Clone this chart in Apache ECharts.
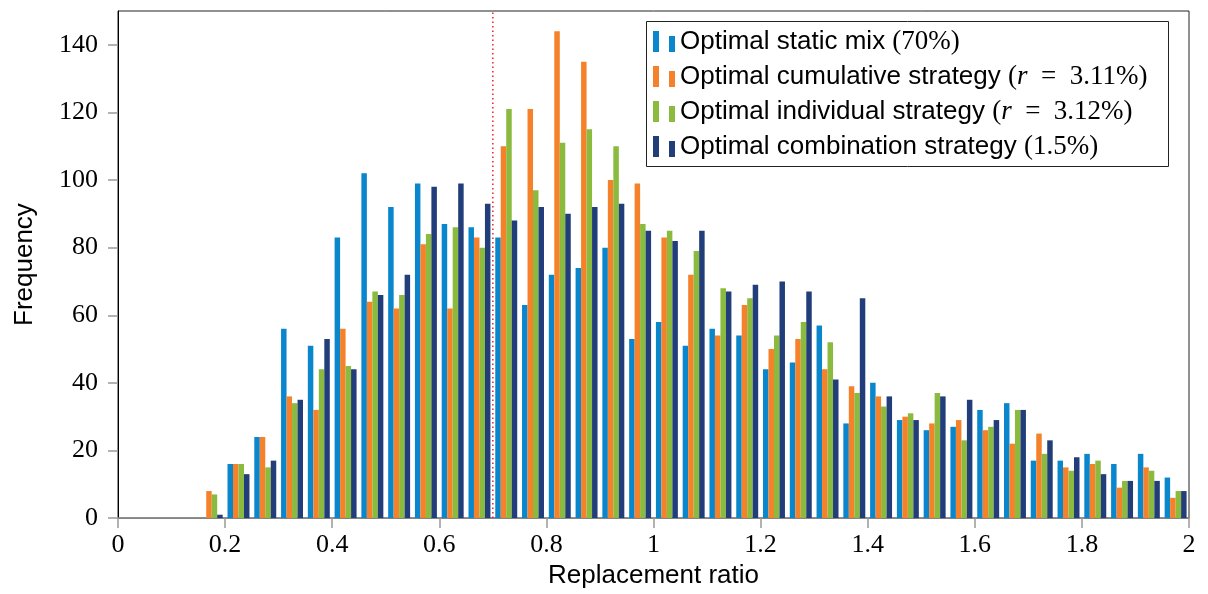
<!DOCTYPE html>
<html>
<head>
<meta charset="utf-8">
<script src="https://cdn.jsdelivr.net/npm/echarts@6/dist/echarts.min.js"></script>
<style>
  html, body { margin: 0; padding: 0; background: #fff; }
  #chart { width: 1208px; height: 594px; }
</style>
</head>
<body>
<div id="chart"></div>
<script>
// histogram bins, width 0.05, starting at these values
var bins = ['0', '0.05', '0.1', '0.15', '0.2', '0.25', '0.3', '0.35', '0.4', '0.45',
    '0.5', '0.55', '0.6', '0.65', '0.7', '0.75', '0.8', '0.85', '0.9', '0.95',
    '1', '1.05', '1.1', '1.15', '1.2', '1.25', '1.3', '1.35', '1.4', '1.45',
    '1.5', '1.55', '1.6', '1.65', '1.7', '1.75', '1.8', '1.85', '1.9', '1.95'];

var staticMix = [0, 0, 0, 0, 16, 24, 56, 51, 83, 102, 92, 99, 87, 86, 83, 63, 72, 74, 80, 53,
    58, 51, 56, 54, 44, 46, 57, 28, 40, 29, 26, 27, 32, 34, 17, 17, 19, 16, 19, 12];
var cumulative = [0, 0, 0, 8, 16, 24, 36, 32, 56, 64, 62, 81, 62, 83, 110, 121, 144, 135, 100, 99,
    83, 72, 54, 63, 50, 53, 44, 39, 36, 30, 28, 29, 26, 22, 25, 15, 16, 9, 15, 6];
var individual = [0, 0, 0, 7, 16, 15, 34, 44, 45, 67, 66, 84, 86, 80, 121, 97, 111, 115, 110, 87,
    85, 79, 68, 65, 54, 58, 52, 37, 33, 31, 37, 23, 27, 32, 19, 14, 17, 11, 14, 8];
var combination = [0, 0, 0, 1, 13, 17, 35, 53, 44, 66, 72, 98, 99, 93, 88, 92, 90, 92, 93, 85,
    82, 85, 67, 69, 70, 67, 41, 65, 36, 29, 36, 35, 29, 32, 23, 18, 13, 11, 11, 8];

var yTicks = [0, 20, 40, 60, 80, 100, 120, 140];
var threshold = 0.7;

var names = ['Optimal static mix (70%)', 'Optimal cumulative strategy (r = 3.11%)',
    'Optimal individual strategy (r = 3.12%)', 'Optimal combination strategy (1.5%)'];

var sans = 'Liberation Sans, Arial, sans-serif';
var serif = 'Liberation Serif, Times New Roman, serif';

var myChart = echarts.init(document.getElementById('chart'));

function barSeries(name, data, color) {
    return {
        name: name,
        type: 'bar',
        xAxisIndex: 0,
        data: data,
        itemStyle: { color: color },
        barGap: '0%',
        barCategoryGap: '18%'
    };
}

var legendText = {};
legendText[names[0]] = '{s|Optimal static mix }{m|(70%)}';
legendText[names[1]] = '{s|Optimal cumulative strategy }{m|(}{i|r}{m|  =  3.11%)}';
legendText[names[2]] = '{s|Optimal individual strategy }{m|(}{i|r}{m|  =  3.12%)}';
legendText[names[3]] = '{s|Optimal combination strategy }{m|(1.5%)}';

var option = {
    animation: false,
    grid: {
        left: 118, right: 19, top: 11, bottom: 74,
        show: true, borderColor: '#222', borderWidth: 1
    },
    // legend box drawn separately so its size is fixed
    graphic: [{
        type: 'rect',
        shape: { x: 646.5, y: 21.5, width: 522, height: 145 },
        style: { fill: '#fff', stroke: '#222', lineWidth: 1 },
        z: 5
    }],
    legend: {
        data: names,
        orient: 'vertical',
        left: 653,
        top: 28,
        padding: 0,
        itemGap: 8,
        itemWidth: 22,
        itemHeight: 21,
        icon: 'path://M0,0H6V21H0Z M16,5H22V21H16Z',
        z: 10,
        formatter: function (name) { return legendText[name]; },
        textStyle: {
            rich: {
                s: { fontFamily: sans, fontSize: 26, color: '#000' },
                m: { fontFamily: serif, fontSize: 27, color: '#000' },
                i: { fontFamily: serif, fontSize: 27, fontStyle: 'italic', color: '#000' }
            }
        }
    },
    xAxis: [{
        type: 'category',
        data: bins,
        show: false
    }, {
        type: 'value',
        min: 0,
        max: 2,
        interval: 0.2,
        position: 'bottom',
        name: 'Replacement ratio',
        nameLocation: 'middle',
        nameGap: 44,
        nameTextStyle: { fontFamily: sans, fontSize: 26, color: '#000' },
        axisLine: { show: true, lineStyle: { color: '#888', width: 1.5 } },
        axisTick: { show: true, length: 10, lineStyle: { color: '#999', width: 1.5 } },
        axisLabel: { fontFamily: serif, fontSize: 26, color: '#000', margin: 14 },
        splitLine: { show: false }
    }],
    yAxis: {
        type: 'value',
        min: 0,
        max: 150,
        name: 'Frequency',
        nameLocation: 'middle',
        nameGap: 80,
        nameTextStyle: { fontFamily: sans, fontSize: 26, color: '#000' },
        axisLine: { show: true, lineStyle: { color: '#000', width: 1 } },
        axisTick: { show: true, length: 10, customValues: yTicks, lineStyle: { color: '#999', width: 1.5 } },
        axisLabel: { fontFamily: serif, fontSize: 26, color: '#000', margin: 20, customValues: yTicks },
        splitLine: { show: false }
    },
    series: [
        barSeries(names[0], staticMix, '#0a86cd'),
        barSeries(names[1], cumulative, '#f5822a'),
        barSeries(names[2], individual, '#8aba3e'),
        barSeries(names[3], combination, '#223e7a'),
        {
            name: 'threshold',
            type: 'line',
            xAxisIndex: 1,
            data: [[threshold, 0], [threshold, 150]],
            symbol: 'none',
            z: 4,
            lineStyle: { color: '#e8232a', width: 1.5, type: [1.5, 3] }
        }
    ]
};
myChart.setOption(option);
window.addEventListener('resize', function () {
    myChart.resize();
});
</script>
</body>
</html>
